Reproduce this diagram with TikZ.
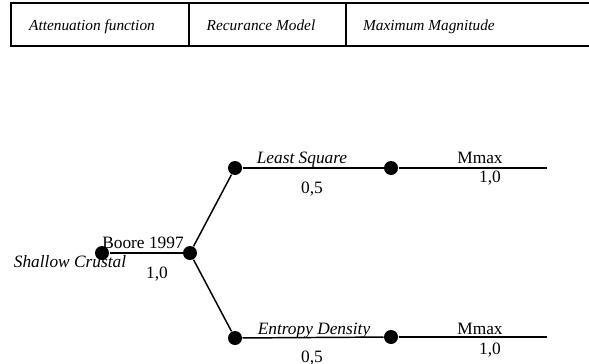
\documentclass[tikz,border=0pt]{standalone}
\usepackage{fontspec}
\setmainfont{Liberation Serif}
\tikzset{every picture/.style={line width=0.75pt}}
\tikzset{dot/.style={circle,fill=black,inner sep=0pt,minimum size=10.5pt},
  lbl/.style={anchor=base,inner sep=0.75pt,font=\fontsize{13}{15}\selectfont},
  hlbl/.style={anchor=base,inner sep=0.75pt,font=\fontsize{11.5}{14}\selectfont\itshape},
  branch/.style={line width=1.1pt}}

\begin{document}
\begin{tikzpicture}[x=0.75pt,y=0.75pt,yscale=-1,xscale=1]
\useasboundingbox (0,0) rectangle (589,364);

% header table
\draw [line width=1.3pt] (589,3) -- (11,3) -- (11,46) -- (589,46) ;
\draw [line width=1.5pt] (189,3) -- (189,46) ;
\draw [line width=1.5pt] (346,3) -- (346,46) ;
% Text Node
\node [hlbl] (hatt) at (92,31) {Attenuation function};
% Text Node
\node [hlbl] (hrec) at (261,31) {Recurance Model};
% Text Node
\node [hlbl] (hmax) at (429,31) {Maximum Magnitude};

% tree nodes
\node [dot] (root) at (102,253) {};
\node [dot] (boore) at (190,253) {};
\node [dot] (lsq) at (235,168) {};
\node [dot] (ent) at (235,338) {};
\node [dot] (mup) at (391,168) {};
\node [dot] (mlo) at (391,337) {};
\coordinate (eup) at (547,168);
\coordinate (elo) at (547,337);

% branches
\draw [branch] (root) -- (boore) ;
\draw [branch] (boore) -- (lsq) ;
\draw [branch] (boore) -- (ent) ;
\draw [branch] (lsq) -- (mup) ;
\draw [branch] (ent) -- (mlo) ;
\draw [branch] (mup) -- (eup) ;
\draw [branch] (mlo) -- (elo) ;

% Text Node
\node [lbl] (tboore) at (143,248) {Boore 1997};
% Text Node
\node [lbl] (tshal) at (70,267) {\textit{Shallow Crustal}};
% Text Node
\node [lbl] (wboore) at (157,278) {1,0};
% Text Node
\node [lbl] (tlsq) at (302,163) {\textit{Least Square}};
% Text Node
\node [lbl] (wlsq) at (312,193) {0,5};
% Text Node
\node [lbl] (tent) at (314,334) {\textit{Entropy Density}};
% Text Node
\node [lbl] (went) at (312,362) {0,5};
% Text Node
\node [lbl] (tmup) at (480,163) {Mmax};
% Text Node
\node [lbl] (wmup) at (490,182) {1,0};
% Text Node
\node [lbl] (tmlo) at (480,334) {Mmax};
% Text Node
\node [lbl] (wmlo) at (490,354) {1,0};

\end{tikzpicture}
\end{document}
